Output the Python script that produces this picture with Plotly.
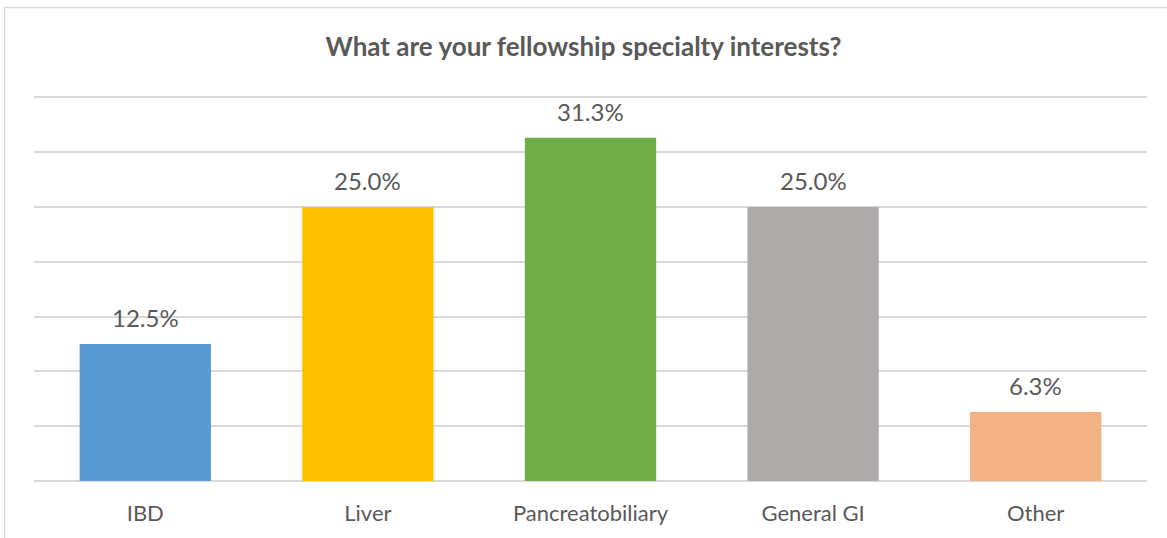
import plotly.graph_objects as go

categories = ["IBD", "Liver", "Pancreatobiliary", "General GI", "Other"]
shares = [12.5, 25.0, 31.3, 25.0, 6.3]
bar_colors = ["#5B9BD5", "#FFC000", "#70AD47", "#AEAAAA", "#F4B183"]

text_color = "#595959"
grid_color = "#D9D9D9"
font_family = "Lato, 'Open Sans', sans-serif"

W, H = 1167, 538
M_L, M_R, M_T, M_B = 34, 20, 94, 57
plot_w = W - M_L - M_R
plot_h = H - M_T - M_B

fig = go.Figure(
    go.Bar(
        x=categories,
        y=shares,
        marker=dict(color=bar_colors, line=dict(width=0)),
        width=0.59,
        hoverinfo="skip",
    )
)

# value labels above each bar
for cat, val in zip(categories, shares):
    fig.add_annotation(
        x=cat,
        y=val,
        text=f"{val:.1f}%",
        showarrow=False,
        yanchor="bottom",
        yshift=10,
        font=dict(size=24, color=text_color, family=font_family),
    )

fig.update_layout(
    width=W,
    height=H,
    paper_bgcolor="white",
    plot_bgcolor="white",
    margin=dict(l=M_L, r=M_R, t=M_T, b=M_B),
    showlegend=False,
    title=dict(
        text="<b>What are your fellowship specialty interests?</b>",
        x=0.5,
        xanchor="center",
        y=1 - 47 / H,
        yanchor="middle",
        font=dict(size=26, color=text_color, family=font_family),
    ),
    xaxis=dict(
        showgrid=False,
        showline=False,
        ticks="",
        ticklabelstandoff=17,
        tickfont=dict(size=22, color=text_color, family=font_family),
    ),
    yaxis=dict(
        range=[0, 35.3],
        tickvals=[0, 5, 10, 15, 20, 25, 30, 35],
        showticklabels=False,
        showgrid=True,
        gridcolor=grid_color,
        gridwidth=1.5,
        zeroline=True,
        zerolinecolor=grid_color,
        zerolinewidth=1.5,
        showline=False,
    ),
    shapes=[
        dict(
            type="rect",
            xref="paper",
            yref="paper",
            x0=(4.5 - M_L) / plot_w,
            x1=1.2,
            y0=-0.4,
            y1=1 + (M_T - 7.5) / plot_h,
            line=dict(color="#D9D9D9", width=1.5),
            fillcolor="rgba(0,0,0,0)",
            layer="below",
        )
    ],
)

fig.write_html("out.html")
